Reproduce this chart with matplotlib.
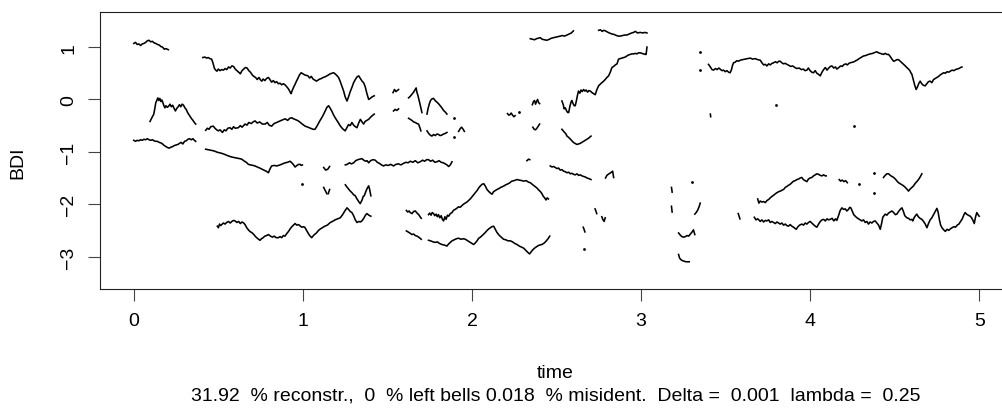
import matplotlib
matplotlib.use("Agg")
import matplotlib.pyplot as plt

plt.rcParams['font.family'] = ['Liberation Sans', 'DejaVu Sans']

# ---- data: reconstructed BDI pieces (time, BDI) ----
seg_a = [(0.000, 1.07), (0.010, 1.09), (0.020, 1.05), (0.030, 1.06), (0.040, 1.03), (0.050, 1.06),
         (0.060, 1.07), (0.070, 1.09), (0.080, 1.12), (0.090, 1.13), (0.100, 1.10), (0.110, 1.11),
         (0.120, 1.08), (0.130, 1.07), (0.140, 1.05), (0.150, 1.04), (0.160, 1.01), (0.170, 1.00),
         (0.180, 0.96), (0.190, 0.97), (0.204, 0.95)]

seg_b = [(0.096, -0.42), (0.102, -0.38), (0.110, -0.33), (0.118, -0.28), (0.124, -0.18), (0.130, -0.06),
         (0.136, -0.02), (0.142, 0.03), (0.148, -0.02), (0.154, 0.02), (0.160, -0.04), (0.166, -0.01),
         (0.172, -0.06), (0.178, -0.12), (0.184, -0.16), (0.190, -0.12), (0.198, -0.15), (0.206, -0.13),
         (0.214, -0.09), (0.222, -0.14), (0.230, -0.11), (0.238, -0.17), (0.246, -0.22), (0.254, -0.17),
         (0.262, -0.14), (0.270, -0.10), (0.278, -0.14), (0.286, -0.09), (0.294, -0.11), (0.302, -0.16),
         (0.310, -0.19), (0.318, -0.25), (0.326, -0.29), (0.334, -0.33), (0.342, -0.37), (0.350, -0.40),
         (0.358, -0.44), (0.366, -0.47)]

seg_c = [(0.000, -0.78), (0.010, -0.80), (0.020, -0.78), (0.030, -0.79), (0.040, -0.77), (0.050, -0.78),
         (0.060, -0.76), (0.070, -0.77), (0.080, -0.75), (0.090, -0.77), (0.100, -0.78), (0.110, -0.77),
         (0.120, -0.79), (0.130, -0.80), (0.140, -0.80), (0.150, -0.82), (0.160, -0.83), (0.170, -0.85),
         (0.180, -0.88), (0.190, -0.90), (0.200, -0.92), (0.210, -0.93), (0.220, -0.91), (0.230, -0.90),
         (0.240, -0.88), (0.250, -0.87), (0.260, -0.86), (0.270, -0.84), (0.280, -0.82), (0.290, -0.85),
         (0.300, -0.80), (0.310, -0.79), (0.320, -0.76), (0.330, -0.75), (0.340, -0.77), (0.350, -0.75),
         (0.358, -0.78), (0.366, -0.80)]

seg_d = [(0.408, 0.80), (0.420, 0.81), (0.430, 0.79), (0.440, 0.80), (0.450, 0.78), (0.460, 0.77),
         (0.468, 0.70), (0.476, 0.60), (0.484, 0.56), (0.492, 0.54), (0.500, 0.58), (0.510, 0.55),
         (0.520, 0.57), (0.530, 0.56), (0.540, 0.59), (0.550, 0.57), (0.560, 0.62), (0.570, 0.60),
         (0.580, 0.64), (0.590, 0.63), (0.600, 0.58), (0.610, 0.55), (0.620, 0.52), (0.630, 0.49),
         (0.640, 0.55), (0.650, 0.58), (0.660, 0.61), (0.670, 0.60), (0.680, 0.55), (0.690, 0.52),
         (0.700, 0.47), (0.710, 0.44), (0.720, 0.42), (0.730, 0.38), (0.740, 0.42), (0.750, 0.37),
         (0.757, 0.35), (0.765, 0.39), (0.775, 0.36), (0.785, 0.40), (0.796, 0.42), (0.805, 0.38),
         (0.815, 0.33), (0.825, 0.36), (0.835, 0.32), (0.845, 0.34), (0.855, 0.30), (0.865, 0.31),
         (0.875, 0.28), (0.885, 0.30), (0.894, 0.28), (0.905, 0.24), (0.915, 0.20), (0.925, 0.14),
         (0.930, 0.11), (0.938, 0.18), (0.946, 0.24), (0.954, 0.29), (0.962, 0.35), (0.970, 0.40),
         (0.980, 0.47), (0.990, 0.51), (1.000, 0.49), (1.010, 0.47), (1.020, 0.46), (1.030, 0.45),
         (1.040, 0.41), (1.050, 0.44), (1.060, 0.39), (1.070, 0.37), (1.080, 0.35), (1.090, 0.37),
         (1.100, 0.39), (1.110, 0.40), (1.120, 0.42), (1.130, 0.43), (1.142, 0.45), (1.152, 0.47),
         (1.162, 0.49), (1.172, 0.50), (1.182, 0.51), (1.190, 0.49), (1.200, 0.46), (1.211, 0.42),
         (1.220, 0.35), (1.230, 0.26), (1.241, 0.16), (1.250, 0.05), (1.261, -0.03), (1.270, 0.05),
         (1.280, 0.15), (1.290, 0.23), (1.300, 0.32), (1.310, 0.38), (1.320, 0.43), (1.330, 0.45),
         (1.340, 0.40), (1.350, 0.35), (1.359, 0.32), (1.368, 0.25), (1.378, 0.12), (1.389, 0.00),
         (1.398, 0.02), (1.410, 0.05), (1.422, 0.07)]

seg_e = [(0.425, -0.59), (0.435, -0.55), (0.445, -0.57), (0.455, -0.52), (0.470, -0.51), (0.480, -0.55),
         (0.490, -0.58), (0.500, -0.60), (0.510, -0.58), (0.524, -0.63), (0.535, -0.58), (0.545, -0.60),
         (0.556, -0.55), (0.569, -0.54), (0.580, -0.57), (0.590, -0.52), (0.600, -0.55), (0.618, -0.54),
         (0.630, -0.50), (0.640, -0.53), (0.658, -0.47), (0.670, -0.49), (0.680, -0.44), (0.695, -0.46),
         (0.705, -0.43), (0.717, -0.41), (0.730, -0.45), (0.745, -0.43), (0.760, -0.47), (0.776, -0.47),
         (0.790, -0.44), (0.800, -0.49), (0.815, -0.51), (0.830, -0.46), (0.845, -0.44), (0.865, -0.41),
         (0.880, -0.39), (0.895, -0.37), (0.910, -0.40), (0.922, -0.36), (0.934, -0.35), (0.945, -0.37),
         (0.960, -0.39), (0.973, -0.41), (0.985, -0.44), (1.000, -0.48), (1.013, -0.51), (1.030, -0.53),
         (1.045, -0.55), (1.060, -0.57), (1.072, -0.57), (1.085, -0.50), (1.100, -0.41), (1.115, -0.33),
         (1.132, -0.22), (1.142, -0.15), (1.152, -0.12), (1.162, -0.17), (1.172, -0.23), (1.182, -0.30),
         (1.191, -0.35), (1.205, -0.42), (1.220, -0.50), (1.235, -0.56), (1.250, -0.60), (1.260, -0.54),
         (1.270, -0.48), (1.280, -0.50), (1.290, -0.44), (1.300, -0.49), (1.310, -0.52), (1.320, -0.54),
         (1.330, -0.45), (1.340, -0.38), (1.350, -0.43), (1.359, -0.47), (1.368, -0.42), (1.378, -0.40),
         (1.389, -0.38), (1.400, -0.34), (1.410, -0.31), (1.422, -0.28)]

seg_f = [(0.425, -0.95), (0.440, -0.96), (0.455, -0.97), (0.470, -0.98), (0.480, -0.99), (0.495, -1.01),
         (0.510, -1.02), (0.530, -1.04), (0.545, -1.06), (0.560, -1.08), (0.579, -1.10), (0.595, -1.11),
         (0.610, -1.12), (0.625, -1.13), (0.638, -1.14), (0.650, -1.17), (0.665, -1.20), (0.678, -1.24),
         (0.690, -1.25), (0.705, -1.26), (0.717, -1.27), (0.730, -1.29), (0.745, -1.31), (0.757, -1.33),
         (0.770, -1.35), (0.783, -1.37), (0.796, -1.40), (0.805, -1.33), (0.815, -1.27), (0.830, -1.26),
         (0.845, -1.27), (0.865, -1.25), (0.880, -1.23), (0.895, -1.21), (0.910, -1.20), (0.924, -1.18),
         (0.935, -1.21), (0.945, -1.25), (0.954, -1.29), (0.965, -1.26), (0.975, -1.24), (0.983, -1.24),
         (0.990, -1.26), (0.997, -1.25)]

seg_g = [(0.494, -2.42), (0.500, -2.45), (0.507, -2.38), (0.514, -2.41), (0.520, -2.39), (0.530, -2.36),
         (0.540, -2.38), (0.549, -2.35), (0.560, -2.33), (0.570, -2.36), (0.580, -2.33), (0.590, -2.31),
         (0.599, -2.32), (0.610, -2.35), (0.620, -2.33), (0.630, -2.37), (0.640, -2.34), (0.650, -2.36),
         (0.658, -2.39), (0.668, -2.45), (0.680, -2.50), (0.690, -2.53), (0.697, -2.54), (0.710, -2.58),
         (0.720, -2.62), (0.730, -2.65), (0.746, -2.69), (0.755, -2.66), (0.765, -2.64), (0.775, -2.61),
         (0.785, -2.60), (0.796, -2.58), (0.808, -2.61), (0.820, -2.63), (0.830, -2.61), (0.842, -2.64),
         (0.855, -2.64), (0.865, -2.62), (0.875, -2.64), (0.884, -2.60), (0.894, -2.61), (0.905, -2.56),
         (0.915, -2.52), (0.925, -2.47), (0.935, -2.43), (0.944, -2.40), (0.954, -2.37), (0.964, -2.40),
         (0.975, -2.39), (0.985, -2.42), (0.995, -2.44), (1.005, -2.43), (1.013, -2.45), (1.025, -2.52),
         (1.040, -2.60), (1.052, -2.64), (1.065, -2.59), (1.080, -2.55), (1.090, -2.51), (1.100, -2.48),
         (1.115, -2.45), (1.130, -2.42), (1.145, -2.40), (1.162, -2.35), (1.175, -2.33), (1.190, -2.30),
         (1.205, -2.28), (1.221, -2.26), (1.235, -2.20), (1.250, -2.12), (1.261, -2.07), (1.270, -2.10),
         (1.280, -2.14), (1.290, -2.16), (1.300, -2.22), (1.310, -2.30), (1.320, -2.35), (1.330, -2.33),
         (1.340, -2.34), (1.349, -2.32), (1.360, -2.27), (1.370, -2.21), (1.379, -2.18), (1.390, -2.21),
         (1.402, -2.23)]

seg_h = [(1.251, -1.25), (1.262, -1.24), (1.275, -1.21), (1.287, -1.23), (1.300, -1.21), (1.312, -1.17),
         (1.325, -1.15), (1.337, -1.14), (1.349, -1.13), (1.360, -1.16), (1.372, -1.18), (1.380, -1.17),
         (1.389, -1.21), (1.400, -1.17), (1.414, -1.15), (1.428, -1.16), (1.440, -1.20), (1.452, -1.22),
         (1.465, -1.25), (1.477, -1.27), (1.490, -1.25), (1.505, -1.26), (1.520, -1.24), (1.536, -1.27),
         (1.550, -1.24), (1.565, -1.23), (1.580, -1.25), (1.595, -1.22), (1.610, -1.20), (1.622, -1.21),
         (1.635, -1.18), (1.650, -1.20), (1.665, -1.17), (1.680, -1.21), (1.694, -1.19), (1.708, -1.16),
         (1.720, -1.18), (1.732, -1.15), (1.743, -1.15), (1.755, -1.18), (1.768, -1.16), (1.780, -1.20),
         (1.793, -1.19), (1.805, -1.17), (1.818, -1.20), (1.830, -1.21), (1.842, -1.23), (1.852, -1.25),
         (1.862, -1.28), (1.872, -1.25), (1.882, -1.19)]

seg_i = [(1.251, -1.63), (1.260, -1.67), (1.270, -1.71), (1.280, -1.75), (1.290, -1.78), (1.300, -1.82),
         (1.310, -1.84), (1.320, -1.90), (1.330, -1.95), (1.339, -1.99), (1.350, -1.92), (1.357, -1.85),
         (1.363, -1.84), (1.372, -1.76), (1.380, -1.70), (1.389, -1.65), (1.395, -1.72), (1.402, -1.84)]

seg_j = [(1.625, 0.03), (1.635, 0.06), (1.645, 0.10), (1.655, 0.14), (1.664, 0.19), (1.670, 0.22),
         (1.674, 0.14), (1.680, 0.08), (1.690, -0.05), (1.697, -0.15), (1.704, -0.25)]

seg_k = [(1.734, -0.28), (1.740, -0.18), (1.748, -0.08), (1.755, -0.02), (1.763, 0.01), (1.773, 0.02),
         (1.782, -0.02), (1.792, -0.05), (1.802, -0.08), (1.812, -0.12), (1.822, -0.16), (1.832, -0.21),
         (1.842, -0.24), (1.852, -0.28)]

seg_l = [(1.625, -0.36), (1.635, -0.38), (1.645, -0.40), (1.655, -0.43), (1.665, -0.44), (1.675, -0.46),
         (1.684, -0.47), (1.692, -0.54), (1.698, -0.60)]

seg_m = [(1.734, -0.60), (1.744, -0.65), (1.753, -0.68), (1.763, -0.70), (1.773, -0.67), (1.783, -0.69),
         (1.793, -0.66), (1.803, -0.67), (1.812, -0.69), (1.822, -0.68), (1.832, -0.66), (1.842, -0.65),
         (1.852, -0.63)]

seg_n = [(1.612, -2.12), (1.620, -2.15), (1.628, -2.13), (1.635, -2.16), (1.645, -2.18), (1.655, -2.14),
         (1.665, -2.13), (1.675, -2.17), (1.685, -2.20), (1.693, -2.24), (1.700, -2.27)]

seg_o = [(1.743, -2.20), (1.750, -2.17), (1.758, -2.21), (1.765, -2.16), (1.773, -2.18), (1.780, -2.22),
         (1.788, -2.19), (1.795, -2.24), (1.802, -2.20), (1.810, -2.26), (1.818, -2.22), (1.825, -2.29),
         (1.832, -2.32), (1.840, -2.24), (1.847, -2.29), (1.855, -2.21), (1.862, -2.23), (1.872, -2.18),
         (1.882, -2.16), (1.890, -2.12), (1.900, -2.10), (1.910, -2.08), (1.920, -2.05), (1.930, -2.06),
         (1.940, -2.03), (1.950, -2.00), (1.960, -1.98), (1.970, -1.96), (1.980, -1.93), (1.990, -1.90),
         (2.000, -1.86), (2.010, -1.82), (2.020, -1.78), (2.030, -1.74), (2.040, -1.69), (2.050, -1.65),
         (2.060, -1.62), (2.070, -1.61), (2.080, -1.66), (2.089, -1.72), (2.100, -1.76), (2.110, -1.79),
         (2.119, -1.81), (2.128, -1.76), (2.138, -1.74), (2.148, -1.72), (2.160, -1.70), (2.170, -1.68),
         (2.177, -1.67), (2.190, -1.65), (2.200, -1.63), (2.207, -1.62), (2.220, -1.60), (2.236, -1.56),
         (2.250, -1.55), (2.266, -1.53), (2.280, -1.54), (2.295, -1.55), (2.306, -1.56), (2.320, -1.55),
         (2.335, -1.58), (2.345, -1.59), (2.360, -1.63), (2.372, -1.66), (2.384, -1.69), (2.395, -1.73),
         (2.405, -1.76), (2.414, -1.80), (2.422, -1.85), (2.430, -1.88), (2.438, -1.92), (2.445, -1.88),
         (2.452, -1.90)]

seg_p1 = [(1.612, -2.51), (1.622, -2.53), (1.632, -2.55), (1.645, -2.58), (1.655, -2.57), (1.665, -2.60),
          (1.675, -2.61), (1.685, -2.63), (1.693, -2.65), (1.700, -2.67)]

seg_p2 = [(1.743, -2.69), (1.755, -2.70), (1.770, -2.72), (1.783, -2.73), (1.795, -2.72), (1.808, -2.75),
          (1.822, -2.77), (1.835, -2.78), (1.845, -2.79), (1.852, -2.80), (1.862, -2.76), (1.872, -2.73),
          (1.882, -2.70), (1.895, -2.68), (1.908, -2.66), (1.921, -2.65), (1.935, -2.67), (1.948, -2.66),
          (1.961, -2.67), (1.975, -2.70), (1.990, -2.73), (2.000, -2.75), (2.010, -2.77), (2.020, -2.74),
          (2.030, -2.70), (2.040, -2.65), (2.050, -2.63), (2.060, -2.60), (2.070, -2.57), (2.079, -2.54),
          (2.090, -2.50), (2.100, -2.47), (2.109, -2.45), (2.118, -2.43), (2.128, -2.42), (2.138, -2.48),
          (2.148, -2.54), (2.160, -2.59), (2.173, -2.63), (2.187, -2.67), (2.200, -2.68), (2.213, -2.70),
          (2.227, -2.70), (2.240, -2.72), (2.253, -2.75), (2.266, -2.77), (2.280, -2.80), (2.293, -2.82),
          (2.306, -2.84), (2.318, -2.88), (2.330, -2.92), (2.341, -2.95), (2.350, -2.91), (2.360, -2.87),
          (2.374, -2.83), (2.388, -2.80), (2.400, -2.78), (2.414, -2.77), (2.428, -2.74), (2.440, -2.70),
          (2.450, -2.66), (2.460, -2.61)]

seg_q = [(2.345, 1.16), (2.357, 1.15), (2.370, 1.14), (2.382, 1.16), (2.393, 1.17), (2.404, 1.18),
         (2.415, 1.15), (2.428, 1.14), (2.443, 1.13), (2.458, 1.15), (2.470, 1.17), (2.483, 1.18),
         (2.497, 1.19), (2.510, 1.20), (2.522, 1.21), (2.535, 1.22), (2.548, 1.21), (2.562, 1.23),
         (2.575, 1.25), (2.588, 1.27), (2.600, 1.31)]

seg_r = [(2.749, 1.32), (2.760, 1.33), (2.770, 1.30), (2.779, 1.32), (2.789, 1.31), (2.800, 1.29),
         (2.812, 1.27), (2.828, 1.25), (2.842, 1.24), (2.855, 1.22), (2.867, 1.21), (2.877, 1.21),
         (2.890, 1.22), (2.904, 1.23), (2.916, 1.23), (2.930, 1.25), (2.945, 1.27), (2.956, 1.28),
         (2.966, 1.30), (2.980, 1.27), (2.995, 1.28), (3.010, 1.27), (3.022, 1.28), (3.035, 1.27)]

seg_s = [(2.532, -0.03), (2.540, -0.10), (2.545, -0.18), (2.552, -0.16), (2.560, -0.22), (2.566, -0.25),
         (2.572, -0.25), (2.580, -0.12), (2.586, -0.05), (2.591, -0.02), (2.598, -0.08), (2.605, -0.12),
         (2.611, -0.12), (2.618, -0.02), (2.624, 0.08), (2.630, 0.16), (2.638, 0.12), (2.645, 0.18),
         (2.652, 0.15), (2.660, 0.19), (2.668, 0.16), (2.675, 0.18), (2.684, 0.14), (2.692, 0.17),
         (2.700, 0.16), (2.710, 0.13), (2.720, 0.11), (2.729, 0.09), (2.738, 0.18), (2.749, 0.26),
         (2.758, 0.29), (2.768, 0.32), (2.779, 0.35), (2.788, 0.38), (2.798, 0.42), (2.808, 0.45),
         (2.818, 0.52), (2.828, 0.61), (2.838, 0.63), (2.848, 0.66), (2.858, 0.68), (2.867, 0.77),
         (2.877, 0.78), (2.887, 0.79), (2.897, 0.80), (2.907, 0.81), (2.916, 0.83), (2.926, 0.85),
         (2.936, 0.86), (2.946, 0.87), (2.956, 0.87), (2.966, 0.88), (2.976, 0.87), (2.985, 0.89),
         (2.995, 0.89), (3.005, 0.88), (3.015, 0.87), (3.025, 0.86), (3.030, 0.86), (3.035, 1.00)]

seg_t = [(2.532, -0.57), (2.540, -0.60), (2.548, -0.63), (2.556, -0.66), (2.562, -0.70), (2.570, -0.72),
         (2.580, -0.75), (2.591, -0.79), (2.600, -0.82), (2.610, -0.84), (2.621, -0.86), (2.630, -0.85),
         (2.640, -0.84), (2.650, -0.82), (2.660, -0.80), (2.670, -0.78), (2.680, -0.76), (2.690, -0.74),
         (2.704, -0.70)]

seg_u = [(2.463, -1.27), (2.473, -1.29), (2.483, -1.28), (2.493, -1.30), (2.503, -1.32), (2.512, -1.31),
         (2.522, -1.35), (2.532, -1.34), (2.542, -1.37), (2.552, -1.38), (2.562, -1.40), (2.572, -1.39),
         (2.582, -1.42), (2.591, -1.41), (2.601, -1.43), (2.611, -1.44), (2.621, -1.42), (2.631, -1.45),
         (2.641, -1.44), (2.651, -1.46), (2.660, -1.47), (2.670, -1.48), (2.680, -1.50), (2.690, -1.51),
         (2.704, -1.53)]

seg_v = [(3.399, 0.67), (3.410, 0.62), (3.420, 0.57), (3.429, 0.56), (3.440, 0.59), (3.450, 0.57),
         (3.460, 0.60), (3.468, 0.58), (3.478, 0.55), (3.488, 0.56), (3.498, 0.53), (3.508, 0.55),
         (3.518, 0.52), (3.527, 0.51), (3.535, 0.57), (3.541, 0.65), (3.547, 0.70), (3.556, 0.71),
         (3.567, 0.74), (3.577, 0.73), (3.587, 0.75), (3.600, 0.76), (3.615, 0.77), (3.630, 0.78),
         (3.646, 0.79), (3.660, 0.77), (3.675, 0.78), (3.690, 0.76), (3.705, 0.75), (3.715, 0.70),
         (3.725, 0.66), (3.735, 0.67), (3.744, 0.64), (3.755, 0.68), (3.764, 0.66), (3.775, 0.69),
         (3.784, 0.70), (3.795, 0.72), (3.805, 0.70), (3.815, 0.73), (3.823, 0.73), (3.833, 0.70),
         (3.843, 0.68), (3.853, 0.69), (3.863, 0.67), (3.875, 0.65), (3.885, 0.63), (3.897, 0.64),
         (3.910, 0.61), (3.922, 0.59), (3.935, 0.60), (3.948, 0.57), (3.960, 0.58), (3.970, 0.55),
         (3.981, 0.56), (3.990, 0.60), (4.000, 0.55), (4.010, 0.52), (4.020, 0.51), (4.030, 0.55),
         (4.040, 0.50), (4.050, 0.48), (4.060, 0.45), (4.070, 0.52), (4.080, 0.57), (4.090, 0.61),
         (4.100, 0.56), (4.110, 0.60), (4.120, 0.63), (4.129, 0.64), (4.140, 0.60), (4.150, 0.62),
         (4.158, 0.58), (4.170, 0.61), (4.180, 0.64), (4.190, 0.63), (4.198, 0.66), (4.210, 0.68),
         (4.220, 0.66), (4.230, 0.69), (4.237, 0.70), (4.250, 0.71), (4.260, 0.72), (4.270, 0.74),
         (4.277, 0.75), (4.290, 0.78), (4.300, 0.80), (4.316, 0.83), (4.330, 0.84), (4.345, 0.86),
         (4.356, 0.87), (4.370, 0.88), (4.385, 0.90), (4.395, 0.91), (4.405, 0.89), (4.415, 0.88),
         (4.425, 0.87), (4.434, 0.86), (4.444, 0.88), (4.454, 0.86), (4.464, 0.86), (4.474, 0.82),
         (4.484, 0.77), (4.494, 0.73), (4.503, 0.74), (4.513, 0.76), (4.523, 0.76), (4.533, 0.73),
         (4.543, 0.70), (4.553, 0.67), (4.563, 0.64), (4.572, 0.61), (4.582, 0.58), (4.590, 0.55),
         (4.596, 0.51), (4.602, 0.48), (4.610, 0.38), (4.618, 0.28), (4.627, 0.19), (4.635, 0.24),
         (4.642, 0.30), (4.651, 0.35), (4.660, 0.30), (4.670, 0.27), (4.681, 0.26), (4.690, 0.30),
         (4.700, 0.34), (4.710, 0.35), (4.720, 0.32), (4.730, 0.38), (4.740, 0.40), (4.750, 0.42),
         (4.760, 0.44), (4.770, 0.47), (4.780, 0.49), (4.790, 0.51), (4.800, 0.50), (4.810, 0.53),
         (4.820, 0.52), (4.829, 0.54), (4.840, 0.56), (4.850, 0.55), (4.860, 0.57), (4.868, 0.58),
         (4.880, 0.59), (4.890, 0.61), (4.898, 0.62)]

seg_w1 = [(3.690, -1.90), (3.697, -1.98), (3.705, -1.94), (3.715, -1.96), (3.725, -1.95), (3.735, -1.97),
          (3.745, -1.93), (3.755, -1.91), (3.764, -1.88), (3.775, -1.85), (3.784, -1.83), (3.795, -1.80),
          (3.804, -1.78), (3.815, -1.76), (3.825, -1.75), (3.835, -1.73), (3.843, -1.72), (3.853, -1.68),
          (3.863, -1.66), (3.872, -1.64), (3.882, -1.62), (3.892, -1.59), (3.902, -1.56), (3.912, -1.55),
          (3.922, -1.53), (3.932, -1.52), (3.941, -1.50), (3.951, -1.49), (3.960, -1.53), (3.970, -1.55),
          (3.981, -1.57), (3.990, -1.52), (4.000, -1.50), (4.010, -1.49), (4.020, -1.46), (4.030, -1.44),
          (4.040, -1.42), (4.050, -1.43), (4.060, -1.45), (4.070, -1.46), (4.080, -1.44), (4.090, -1.46),
          (4.095, -1.46)]

seg_w2 = [(4.172, -1.53), (4.180, -1.56), (4.190, -1.54), (4.200, -1.57), (4.210, -1.55), (4.220, -1.59)]

seg_w3 = [(4.434, -1.49), (4.444, -1.45), (4.454, -1.42), (4.464, -1.42), (4.474, -1.45), (4.484, -1.47),
          (4.494, -1.49), (4.504, -1.52), (4.514, -1.56), (4.523, -1.59), (4.533, -1.61), (4.543, -1.63),
          (4.553, -1.65), (4.563, -1.68), (4.572, -1.71), (4.582, -1.75), (4.592, -1.71), (4.602, -1.68),
          (4.612, -1.65), (4.622, -1.60), (4.631, -1.57), (4.641, -1.53), (4.651, -1.48), (4.661, -1.42)]

seg_x = [(3.670, -2.25), (3.680, -2.30), (3.690, -2.28), (3.700, -2.31), (3.705, -2.33), (3.715, -2.30),
         (3.725, -2.34), (3.735, -2.31), (3.744, -2.32), (3.755, -2.30), (3.764, -2.35), (3.774, -2.33),
         (3.784, -2.35), (3.794, -2.37), (3.804, -2.34), (3.813, -2.36), (3.823, -2.38), (3.833, -2.36),
         (3.843, -2.40), (3.853, -2.38), (3.863, -2.41), (3.872, -2.42), (3.882, -2.39), (3.892, -2.42),
         (3.902, -2.44), (3.910, -2.46), (3.918, -2.48), (3.928, -2.43), (3.938, -2.40), (3.951, -2.38),
         (3.961, -2.40), (3.971, -2.36), (3.981, -2.38), (3.990, -2.35), (4.000, -2.33), (4.010, -2.36),
         (4.020, -2.39), (4.030, -2.42), (4.040, -2.44), (4.050, -2.38), (4.060, -2.33), (4.070, -2.30),
         (4.080, -2.29), (4.090, -2.32), (4.100, -2.28), (4.110, -2.30), (4.119, -2.29), (4.130, -2.27),
         (4.140, -2.32), (4.150, -2.28), (4.158, -2.31), (4.168, -2.22), (4.178, -2.12), (4.188, -2.07),
         (4.198, -2.10), (4.208, -2.09), (4.217, -2.13), (4.227, -2.10), (4.234, -2.06), (4.241, -2.07),
         (4.250, -2.14), (4.258, -2.20), (4.267, -2.23), (4.277, -2.26), (4.287, -2.28), (4.297, -2.30),
         (4.306, -2.32), (4.316, -2.30), (4.326, -2.35), (4.336, -2.33), (4.345, -2.38), (4.355, -2.34),
         (4.365, -2.36), (4.375, -2.33), (4.385, -2.32), (4.395, -2.36), (4.405, -2.40), (4.415, -2.48),
         (4.422, -2.38), (4.430, -2.25), (4.437, -2.22), (4.444, -2.19), (4.454, -2.21), (4.464, -2.17),
         (4.474, -2.15), (4.484, -2.13), (4.494, -2.16), (4.504, -2.20), (4.513, -2.19), (4.523, -2.14),
         (4.533, -2.10), (4.543, -2.07), (4.552, -2.14), (4.560, -2.22), (4.572, -2.26), (4.582, -2.27),
         (4.592, -2.30), (4.602, -2.29), (4.607, -2.32), (4.615, -2.26), (4.623, -2.22), (4.631, -2.19),
         (4.640, -2.24), (4.650, -2.27), (4.661, -2.29), (4.671, -2.33), (4.681, -2.38), (4.691, -2.45),
         (4.700, -2.37), (4.710, -2.30), (4.720, -2.26), (4.730, -2.20), (4.740, -2.14), (4.750, -2.08),
         (4.757, -2.15), (4.765, -2.30), (4.772, -2.40), (4.780, -2.45), (4.790, -2.49), (4.800, -2.52),
         (4.810, -2.48), (4.820, -2.50), (4.830, -2.47), (4.840, -2.45), (4.850, -2.43), (4.860, -2.44),
         (4.870, -2.40), (4.880, -2.38), (4.890, -2.33), (4.900, -2.28), (4.910, -2.20), (4.917, -2.16),
         (4.925, -2.19), (4.935, -2.21), (4.947, -2.23), (4.955, -2.26), (4.963, -2.31), (4.971, -2.37),
         (4.978, -2.25), (4.986, -2.16), (4.993, -2.20), (5.000, -2.23)]

# short fragments
bits = [
    [(1.123, -1.30), (1.135, -1.35), (1.148, -1.33), (1.158, -1.28)],
    [(1.123, -1.68), (1.132, -1.74), (1.142, -1.80)],
    [(1.150, -1.80), (1.158, -1.72)],
    [(1.533, 0.13), (1.542, 0.19), (1.550, 0.15), (1.558, 0.17), (1.566, 0.19)],
    [(1.536, -0.22), (1.546, -0.19), (1.556, -0.21), (1.566, -0.18)],
    [(1.921, -0.61), (1.930, -0.56), (1.938, -0.53), (1.946, -0.56), (1.955, -0.61)],
    [(2.210, -0.27), (2.218, -0.30), (2.225, -0.29), (2.232, -0.26), (2.240, -0.30), (2.248, -0.33), (2.255, -0.31)],
    [(2.357, -0.10), (2.364, -0.04), (2.370, -0.02), (2.376, -0.09), (2.382, -0.04), (2.388, 0.00), (2.394, -0.06), (2.400, -0.08)],
    [(2.360, -0.53), (2.368, -0.57), (2.376, -0.58), (2.384, -0.55), (2.392, -0.51), (2.400, -0.47)],
    [(2.325, -1.17), (2.335, -1.14), (2.342, -1.15)],
    [(2.790, -1.50), (2.798, -1.45), (2.806, -1.43), (2.815, -1.41), (2.825, -1.39), (2.832, -1.37), (2.838, -1.49)],
    [(2.728, -2.09), (2.733, -2.13), (2.738, -2.18)],
    [(2.768, -2.24), (2.775, -2.30), (2.782, -2.33), (2.788, -2.26)],
    [(2.658, -2.44), (2.663, -2.48), (2.668, -2.53)],
    [(3.180, -1.68), (3.182, -1.72), (3.184, -1.77)],
    [(3.180, -2.04), (3.182, -2.10), (3.184, -2.15)],
    [(3.318, -2.19), (3.326, -2.16), (3.334, -2.12), (3.342, -2.06), (3.350, -1.98)],
    [(3.222, -2.55), (3.232, -2.59), (3.242, -2.62), (3.252, -2.63), (3.262, -2.62), (3.272, -2.60),
     (3.282, -2.61), (3.292, -2.57), (3.302, -2.53), (3.310, -2.49), (3.318, -2.58)],
    [(3.222, -2.96), (3.228, -3.03), (3.236, -3.06), (3.246, -3.08), (3.256, -3.09), (3.266, -3.10),
     (3.276, -3.10), (3.285, -3.10)],
    [(3.410, -0.28), (3.412, -0.33)],
    [(3.575, -2.18), (3.580, -2.23), (3.585, -2.28)],
]

dots = [(0.997, -1.62), (1.896, -0.36), (1.896, -0.71), (2.280, -0.24), (2.662, -2.86), (3.301, -1.57),
        (3.350, 0.91), (3.350, 0.56), (3.800, -0.11), (4.260, -0.51), (4.290, -1.61), (4.375, -1.41),
        (4.375, -1.78)]

segments = [seg_a, seg_b, seg_c, seg_d, seg_e, seg_f, seg_g, seg_h, seg_i, seg_j, seg_k, seg_l, seg_m,
            seg_n, seg_o, seg_p1, seg_p2, seg_q, seg_r, seg_s, seg_t, seg_u, seg_v, seg_w1, seg_w2,
            seg_w3, seg_x] + bits

x_ticks = [0, 1, 2, 3, 4, 5]
y_ticks = [-3, -2, -1, 0, 1]
caption = "31.92  % reconstr.,  0  % left bells 0.018  % misident.  Delta =  0.001  lambda =  0.25"

# ---- figure ----
W, H = 1002, 410
fig = plt.figure(figsize=(W / 100, H / 100), dpi=100)
# plot region runs past the right edge, like the original
ax = fig.add_axes([100 / W, (H - 290) / H, 913 / W, 277 / H])

for seg in segments:
    ts = [p[0] for p in seg]
    ys = [p[1] for p in seg]
    ax.plot(ts, ys, color='black', lw=1.15, solid_joinstyle='round')

ax.plot([d[0] for d in dots], [d[1] for d in dots], linestyle='none', marker='o',
        markersize=1.0, color='black')

ax.set_xlim(-0.2, 5.2)
ax.set_ylim(-3.62, 1.67)
ax.set_xticks(x_ticks)
ax.set_yticks(y_ticks)
ax.set_xticklabels([str(v) for v in x_ticks])
ax.set_yticklabels([str(v).replace('-', '\u2212') for v in y_ticks])

for s in ax.spines.values():
    s.set_linewidth(0.8)
    s.set_color('#222222')
ax.spines['right'].set_visible(False)
ax.tick_params(length=8.5, width=0.8, color='#444444', labelsize=14, pad=8)
for lab in ax.get_yticklabels():
    lab.set_rotation(90)
    lab.set_va('center')
    lab.set_ha('right')

fig.text(18 / W, 1 - 163 / H, 'BDI', rotation=90, ha='center', va='center', fontsize=14)
fig.text(555 / W, 1 - 374 / H, 'time', ha='center', va='center', fontsize=14)
fig.text(556 / W, 1 - 396 / H, caption, ha='center', va='center', fontsize=14)

fig.savefig('out.png', dpi=100)
